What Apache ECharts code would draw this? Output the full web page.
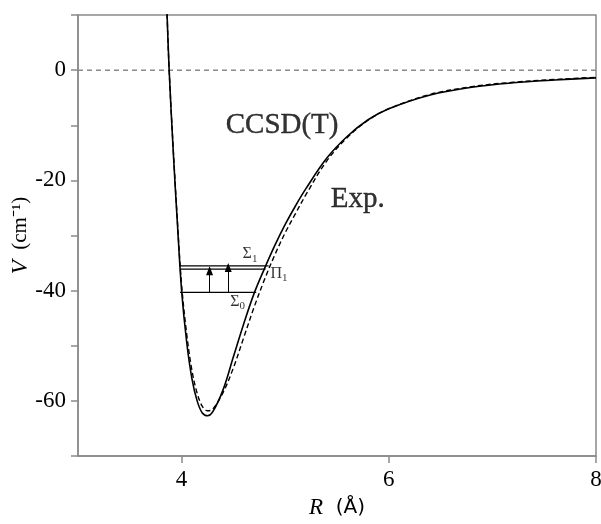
<!DOCTYPE html>
<html>
<head>
<meta charset="utf-8">
<script src="https://cdn.jsdelivr.net/npm/echarts@6/dist/echarts.min.js"></script>
<style>
html, body { margin: 0; padding: 0; background: #fff; }
#main { width: 601px; height: 524px; }
</style>
</head>
<body>
<div id="main"></div>
<script>
// CCSD(T) potential (solid)
var rCalc = [3.85, 3.86, 3.88, 3.92, 3.96, 4.0, 4.05, 4.1, 4.15, 4.2, 4.25, 4.3, 4.4, 4.5, 4.6, 4.7, 4.8, 4.9, 5.0, 5.1, 5.2, 5.4, 5.6, 5.8, 6.0, 6.4, 6.8, 7.2, 7.6, 8.0];
var vCalc = [16, 10, 0, -15, -28, -40, -49.5, -56, -60, -62.2, -62.7, -62, -58, -52, -46, -40.5, -36, -31.8, -28, -24.6, -21.5, -16, -12, -9, -7, -4.5, -3.1, -2.3, -1.8, -1.4];
// experimental potential (dashed)
var rExp = [3.85, 3.86, 3.88, 3.92, 3.96, 4.0, 4.05, 4.1, 4.15, 4.2, 4.25, 4.3, 4.4, 4.5, 4.6, 4.7, 4.8, 4.9, 5.0, 5.1, 5.2, 5.4, 5.6, 5.8, 6.0, 6.4, 6.8, 7.2, 7.6, 8.0];
var vExp = [16, 10, 0, -14.5, -27.5, -39, -48, -54.5, -58.6, -61, -61.8, -61.5, -58.5, -54, -48.5, -43, -38, -33.5, -29.5, -26, -22.6, -16.5, -12.2, -9.1, -7, -4.4, -3.0, -2.2, -1.7, -1.3];

var yTicks = [-70, -60, -50, -40, -30, -20, -10, 0, 10];
var yLabels = [-60, -40, -20, 0];
var xTicks = [4, 6, 8];

// vibrational levels
var levelV = [-35.5, -36.1, -40.3];
var levelStart = [3.985, 3.985, 3.985];
var levelEnd = [4.84, 4.81, 4.72];
var arrowR = [4.27, 4.45];
var arrowFrom = [-40.3, -40.3];
var arrowTo = [-36.1, -35.5];
var levelLabels = ['{s|Σ}{sub|1}', '{s|Π}{sub|1}', '{s|Σ}{sub|0}'];
var levelLabelR = [4.66, 4.94, 4.54];
var levelLabelV = [-33.4, -36.9, -42.0];

var curveNames = ['CCSD(T)', 'Exp.'];
var curveLabelR = [4.97, 5.70];
var curveLabelV = [-10, -23.5];

var serif = 'Liberation Serif';
var axisGray = '#8a8a8a';

function pairs(xs, ys) {
  return xs.map(function (x, i) { return [x, ys[i]]; });
}

var series = [
  {
    name: 'zero', type: 'line', data: [[3, 0], [8, 0]], symbol: 'none', silent: true,
    lineStyle: { color: axisGray, width: 1.5, type: [5, 4] }
  },
  {
    name: 'CCSD(T)', type: 'line', data: pairs(rCalc, vCalc), symbol: 'none', smooth: 0.35,
    lineStyle: { color: '#000', width: 1.6 }
  },
  {
    name: 'Exp.', type: 'line', data: pairs(rExp, vExp), symbol: 'none', smooth: 0.35,
    lineStyle: { color: '#000', width: 1.4, type: [5, 3] }
  }
];

levelV.forEach(function (v, i) {
  series.push({
    type: 'line', data: [[levelStart[i], v], [levelEnd[i], v]], symbol: 'none', silent: true,
    lineStyle: { color: '#000', width: 1.2 }
  });
});

series.push({
  type: 'line', data: [], symbol: 'none', silent: true,
  markLine: {
    silent: true, symbol: ['none', 'triangle'], symbolSize: [7, 9],
    label: { show: false },
    lineStyle: { color: '#000', width: 1, type: 'solid' },
    data: arrowR.map(function (r, i) {
      return [{ coord: [r, arrowFrom[i]] }, { coord: [r, arrowTo[i] - 0.3] }];
    })
  }
});

series.push({
  type: 'scatter', symbolSize: 0, silent: true,
  data: levelLabels.map(function (t, i) { return { value: [levelLabelR[i], levelLabelV[i]], name: t }; }),
  label: {
    show: true, position: 'inside', formatter: function (p) { return p.name; },
    color: '#000', textBorderWidth: 0,
    rich: {
      s: { fontFamily: serif, fontSize: 16, color: '#000' },
      sub: { fontFamily: serif, fontSize: 11, color: '#000', padding: [9, 0, 0, 0] }
    }
  }
});

series.push({
  type: 'scatter', symbolSize: 0, silent: true,
  data: curveNames.map(function (t, i) { return { value: [curveLabelR[i], curveLabelV[i]], name: t }; }),
  label: {
    show: true, position: 'inside', formatter: function (p) { return p.name; },
    fontFamily: serif, fontSize: 29, color: '#000',
    textBorderColor: '#000', textBorderWidth: 0.4
  }
});

var chart = echarts.init(document.getElementById('main'));
chart.setOption({
  animation: false,
  grid: {
    left: 78, right: 5, top: 15, bottom: 68, outerBoundsMode: 'none',
    show: true, borderColor: axisGray, borderWidth: 1.5
  },
  xAxis: {
    type: 'value', min: 3, max: 8,
    name: '{i|R}  (Å)', nameLocation: 'middle', nameGap: 40,
    nameTextStyle: {
      fontFamily: 'DejaVu Sans', fontSize: 20, color: '#000',
      rich: { i: { fontFamily: serif, fontStyle: 'italic', fontSize: 23, color: '#000' } }
    },
    axisLine: { onZero: false, lineStyle: { color: axisGray, width: 1.5 } },
    axisTick: { show: true, customValues: xTicks, length: 7, lineStyle: { color: axisGray, width: 1.5 } },
    axisLabel: { customValues: xTicks, margin: 12, fontFamily: serif, fontSize: 23, color: '#000' },
    splitLine: { show: false }
  },
  yAxis: {
    type: 'value', min: -70, max: 10, interval: 10,
    name: '{i|V}  (cm⁻¹)', nameLocation: 'middle', nameGap: 46, nameRotate: 90,
    nameMoveOverlap: false,
    nameTextStyle: {
      fontFamily: serif, fontSize: 21, color: '#000',
      rich: { i: { fontFamily: serif, fontStyle: 'italic', fontSize: 23, color: '#000' } }
    },
    axisLine: { show: true, onZero: false, lineStyle: { color: axisGray, width: 1.5 } },
    axisTick: { show: true, customValues: yTicks, length: 7, lineStyle: { color: axisGray, width: 1.5 } },
    axisLabel: { customValues: yLabels, margin: 12, fontFamily: serif, fontSize: 23, color: '#000' },
    splitLine: { show: false }
  },
  series: series
});
</script>
</body>
</html>
